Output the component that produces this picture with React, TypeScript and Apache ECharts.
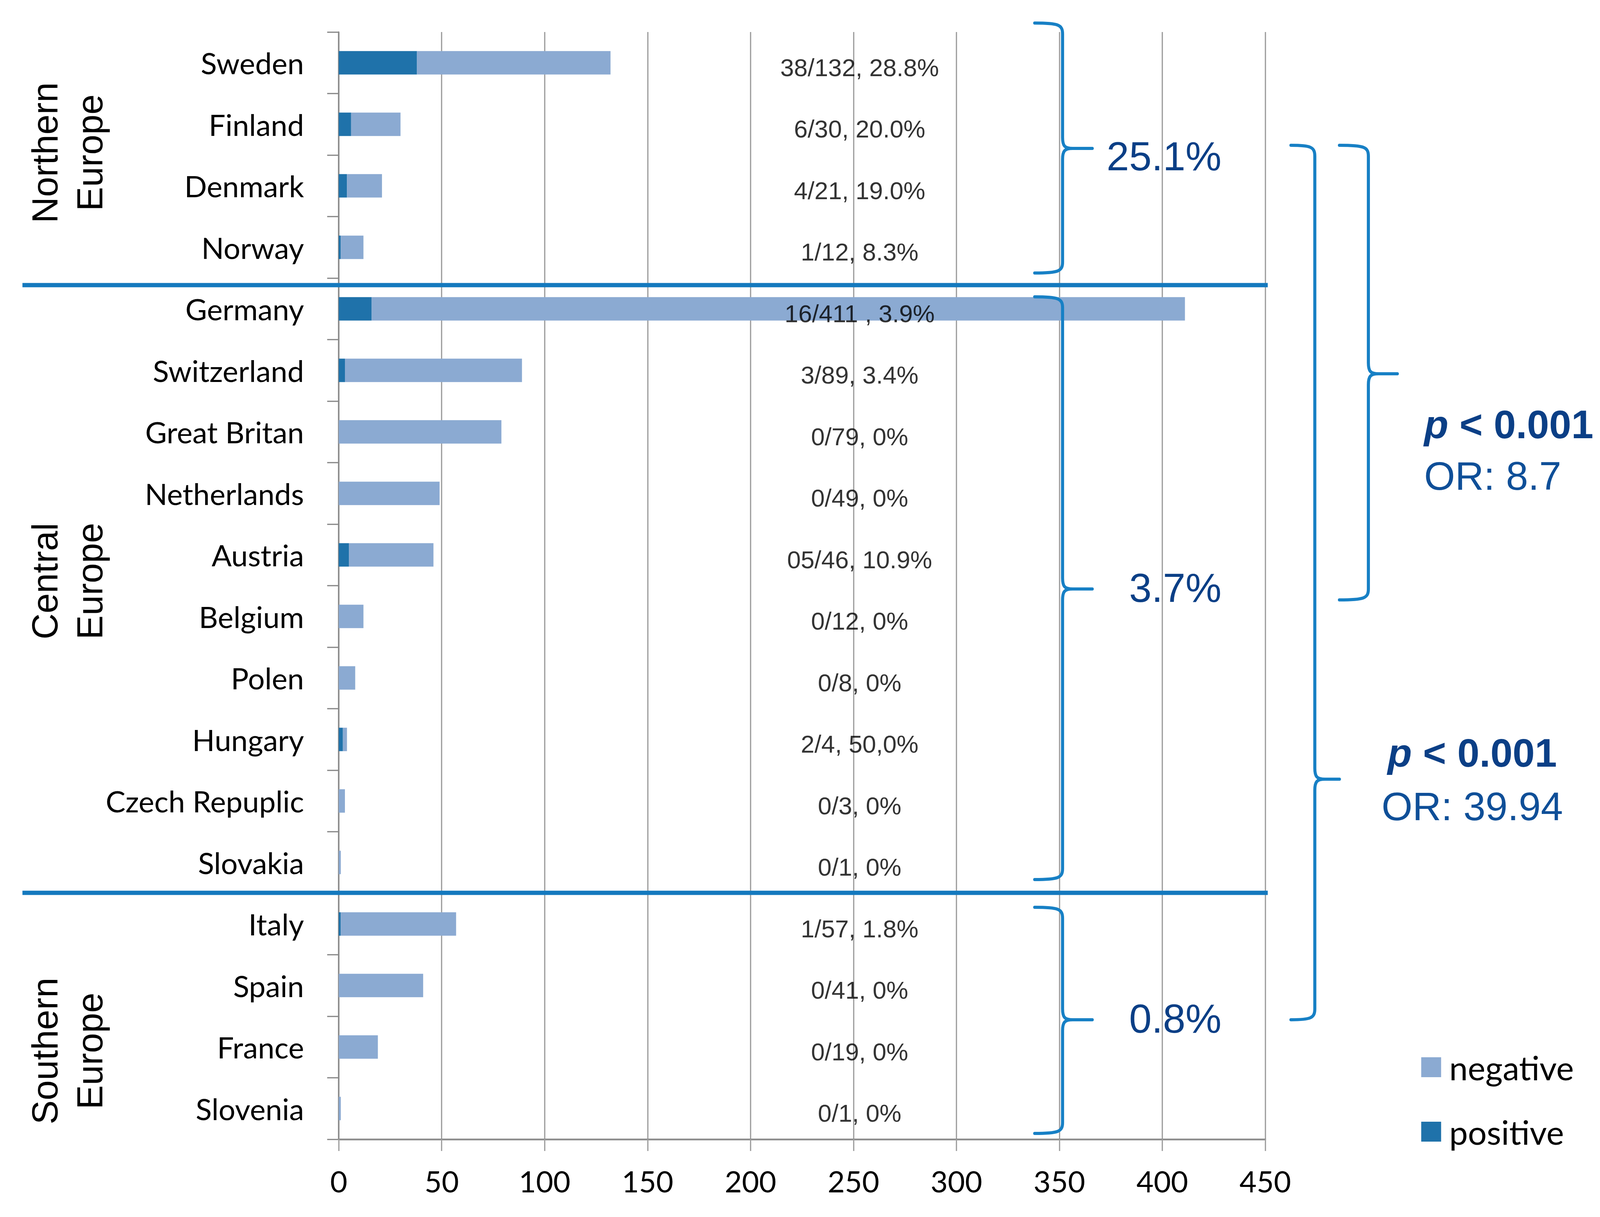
import React, { useEffect, useRef } from "react";
import * as echarts from "echarts";

const categories = [
  "Sweden", "Finland", "Denmark", "Norway",
  "Germany", "Switzerland", "Great Britan", "Netherlands", "Austria", "Belgium", "Polen", "Hungary", "Czech Repuplic", "Slovakia",
  "Italy", "Spain", "France", "Slovenia",
];
const positives = [38, 6, 4, 1, 16, 3, 0, 0, 5, 0, 0, 2, 0, 0, 1, 0, 0, 0];
const totals = [132, 30, 21, 12, 411, 89, 79, 49, 46, 12, 8, 4, 3, 1, 57, 41, 19, 1];
const ratioLabels = [
  "38/132, 28.8%", "6/30, 20.0%", "4/21, 19.0%", "1/12, 8.3%",
  "16/411 , 3.9%", "3/89, 3.4%", "0/79, 0%", "0/49, 0%", "05/46, 10.9%", "0/12, 0%", "0/8, 0%", "2/4, 50,0%", "0/3, 0%", "0/1, 0%",
  "1/57, 1.8%", "0/41, 0%", "0/19, 0%", "0/1, 0%",
];
const regionNames = ["Northern\nEurope", "Central\nEurope", "Southern\nEurope"];
const regionPercents = ["25.1%", "3.7%", "0.8%"];
const comparisons = [
  { p: "< 0.001", or: "OR: 8.7" },
  { p: "< 0.001", or: "OR: 39.94" },
];
const X_MIN = 0;
const X_MAX = 450;
const X_STEP = 50;

const negatives = totals.map((t, i) => t - positives[i]);

const BRACE_COLOR = "#1780C5";
const NAVY = "#0B3F86";
const OR_BLUE = "#0F4F98";

function bracePath(kx: number, ky: number, tipX: number, spineX: number, pointX: number, top: number, mid: number, bottom: number) {
  const r = 28;
  const f = (a: number, b: number) => `${a * kx} ${b * ky}`;
  return [
    `M${f(tipX, top)}`,
    `C${f(spineX - 12, top)} ${f(spineX, top + 4)} ${f(spineX, top + r)}`,
    `L${f(spineX, mid - r)}`,
    `C${f(spineX, mid - 6)} ${f(spineX + 6, mid)} ${f(spineX + r, mid)}`,
    `L${f(pointX, mid)}`,
    `M${f(spineX + r, mid)}`,
    `C${f(spineX + 6, mid)} ${f(spineX, mid + 6)} ${f(spineX, mid + r)}`,
    `L${f(spineX, bottom - r)}`,
    `C${f(spineX, bottom - 4)} ${f(spineX - 12, bottom)} ${f(tipX, bottom)}`,
  ].join(" ");
}

const braces = [
  [2859, 2936, 3018, 59, 380, 699],
  [2859, 2936, 3018, 760, 1508, 2252],
  [2859, 2936, 3018, 2323, 2611, 2902],
  [3567, 3633, 3701, 372, 1995, 2611],
  [3701, 3781, 3861, 372, 957, 1536],
];

export default function App() {
  const ref = useRef<HTMLDivElement>(null);
  const W = typeof window !== "undefined" ? window.innerWidth : 4421;
  const H = typeof window !== "undefined" ? window.innerHeight : 3116;
  useEffect(() => {
    document.body.style.margin = "0";
    document.body.style.overflow = "hidden";
    if (!ref.current) return;
    const kx = W / 4421;
    const ky = H / 3116;
    const sx = (v: number) => v * kx;
    const sy = (v: number) => v * ky;
    const sf = (v: number) => v * kx;
    braces.forEach((b, i) => {
      echarts.graphic.registerShape(
        "brace" + i,
        echarts.graphic.extendPath(bracePath(kx, ky, b[0], b[1], b[2], b[3], b[4], b[5]), {})
      );
    });
    const chart = echarts.init(ref.current, undefined, { renderer: "svg" });

    const graphics: any[] = [];
    [730, 2286].forEach((y) => {
      graphics.push({
        type: "line",
        shape: { x1: sx(62), y1: sy(y), x2: sx(3503), y2: sy(y) },
        style: { stroke: "#1479BE", lineWidth: sf(12) },
        z: 10,
      });
    });
    [391, 1488, 2691].forEach((y, i) => {
      graphics.push({
        type: "text",
        x: sx(186),
        y: sy(y),
        rotation: Math.PI / 2,
        style: {
          text: regionNames[i],
          fontFamily: "Liberation Sans",
          fontSize: sf(100),
          lineHeight: sf(124),
          fill: "#000",
          align: "center",
          verticalAlign: "middle",
        },
      });
    });
    braces.forEach((_, i) => {
      graphics.push({
        type: "brace" + i,
        x: 0,
        y: 0,
        style: { stroke: BRACE_COLOR, lineWidth: sf(8.5), fill: "none", lineCap: "round" },
        z: 20,
      });
    });
    [400, 1505, 2608].forEach((y, i) => {
      graphics.push({
        type: "text",
        x: sx(3375),
        y: sy(y),
        style: {
          text: regionPercents[i],
          fontFamily: "Liberation Sans",
          fontSize: sf(112),
          fill: NAVY,
          align: "right",
          verticalAlign: "middle",
        },
        z: 20,
      });
    });
    const compPos = [
      { x: 3935, yp: 1087, yo: 1219, align: "left" },
      { x: 4068, yp: 1928, yo: 2065, align: "center" },
    ];
    compPos.forEach((c, i) => {
      graphics.push({
        type: "text",
        x: sx(c.x),
        y: sy(c.yp),
        style: {
          text: "{i|p}{b| " + comparisons[i].p + "}",
          align: c.align,
          verticalAlign: "middle",
          rich: {
            i: { fontFamily: "Liberation Sans", fontSize: sf(110), fontWeight: "bold", fontStyle: "italic", fill: NAVY },
            b: { fontFamily: "Liberation Sans", fontSize: sf(110), fontWeight: "bold", fill: NAVY },
          },
        },
        z: 20,
      });
      graphics.push({
        type: "text",
        x: sx(c.x),
        y: sy(c.yo),
        style: {
          text: comparisons[i].or,
          fontFamily: "Liberation Sans",
          fontSize: sf(110),
          fill: OR_BLUE,
          align: c.align,
          verticalAlign: "middle",
        },
        z: 20,
      });
    });

    chart.setOption({
      animation: false,
      backgroundColor: "#ffffff",
      grid: { left: sx(936), top: sy(82), width: sx(2560), height: sy(2835), containLabel: false },
      legend: {
        data: ["negative", "positive"],
        orient: "vertical",
        left: sx(3927),
        top: sy(2690),
        padding: 0,
        itemWidth: sf(55),
        itemHeight: sf(55),
        itemGap: sy(80),
        icon: "rect",
        textStyle: { fontFamily: "Lato", fontSize: sf(92), color: "#000", padding: [0, 0, 0, sx(17)] },
      },
      xAxis: {
        type: "value",
        min: X_MIN,
        max: X_MAX,
        interval: X_STEP,
        axisLine: { show: true, lineStyle: { color: "#8c8c8c", width: sf(5) } },
        axisTick: { show: true, length: sy(30), lineStyle: { color: "#a0a0a0", width: sf(3.5) } },
        splitLine: { show: true, lineStyle: { color: "#a0a0a0", width: sf(3.5) } },
        axisLabel: { margin: sy(68), fontFamily: "Lato", fontSize: sf(82), color: "#000" },
      },
      yAxis: {
        type: "category",
        data: categories,
        inverse: true,
        axisLine: { show: true, lineStyle: { color: "#8c8c8c", width: sf(4) } },
        axisTick: { show: true, length: sx(32), interval: 0, lineStyle: { color: "#8c8c8c", width: sf(3.5) } },
        axisLabel: { interval: 0, margin: sx(96), fontFamily: "Lato", fontSize: sf(82), color: "#000" },
      },
      series: [
        {
          name: "positive",
          type: "bar",
          stack: "total",
          data: positives,
          barWidth: sy(60),
          itemStyle: { color: "#1F72AA" },
        },
        {
          name: "negative",
          type: "bar",
          stack: "total",
          data: negatives,
          barWidth: sy(60),
          itemStyle: { color: "#8BAAD2" },
        },
        {
          name: "ratio",
          type: "scatter",
          data: categories.map((c) => [253, c]),
          symbolSize: 0,
          silent: true,
          z: 5,
          label: {
            show: true,
            position: "inside",
            offset: [0, sy(12)],
            formatter: (p: any) => ratioLabels[p.dataIndex],
            fontFamily: "Liberation Sans",
            fontSize: sf(68),
            color: "#000",
          },
        },
      ],
      graphic: graphics,
    });
    return () => chart.dispose();
  }, []);
  return <div ref={ref} style={{ width: W, height: H }} />;
}
